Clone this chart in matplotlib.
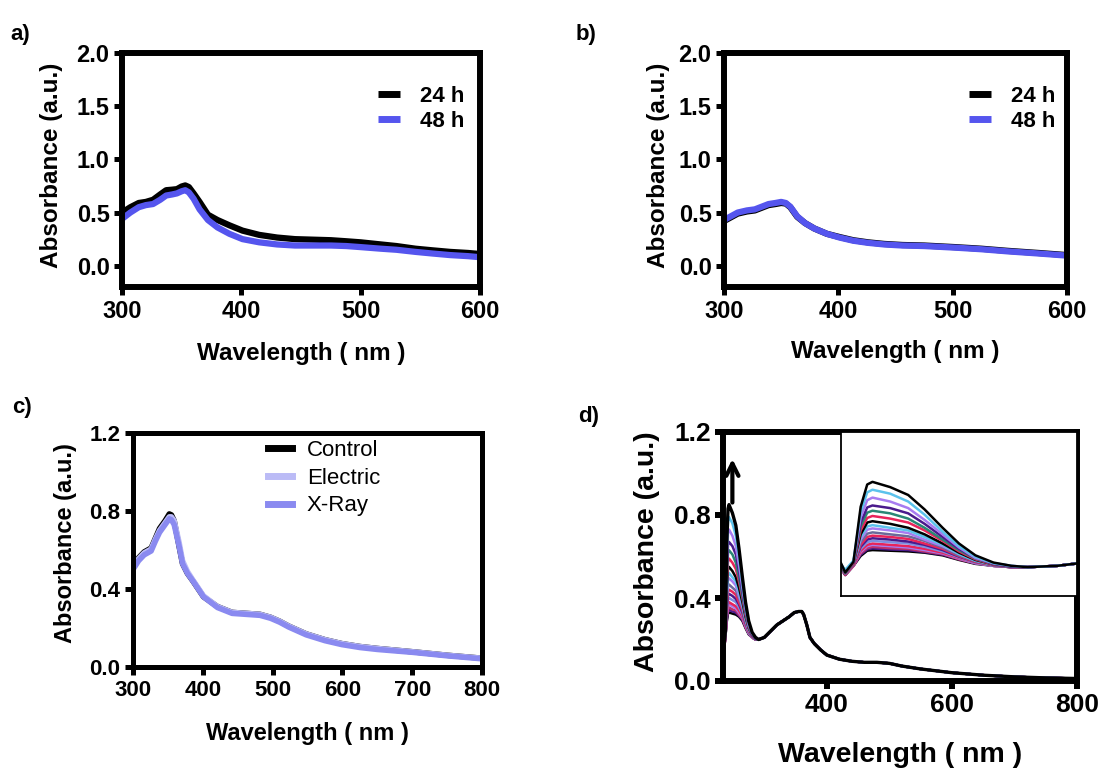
import matplotlib
matplotlib.use("Agg")
import matplotlib.pyplot as plt
import numpy as np

plt.rcParams['font.family'] = ['Liberation Sans', 'DejaVu Sans']

# ---------------- data ----------------
# panel a
A_W = [300, 307, 314, 320, 326, 332, 337, 342, 346, 350, 353, 356, 360, 365, 372, 380, 390,
       401, 415, 430, 445, 460, 475, 488, 500, 517, 530, 546, 560, 575, 590, 600]
A_24 = [0.50, 0.55, 0.59, 0.60, 0.62, 0.67, 0.71, 0.715, 0.72, 0.745, 0.755, 0.74, 0.68, 0.60,
        0.48, 0.43, 0.38, 0.33, 0.29, 0.265, 0.25, 0.245, 0.24, 0.23, 0.22, 0.20, 0.185, 0.16,
        0.145, 0.13, 0.12, 0.11]
A_48 = [0.44, 0.50, 0.55, 0.57, 0.58, 0.62, 0.66, 0.67, 0.68, 0.70, 0.71, 0.69, 0.63, 0.53,
        0.43, 0.36, 0.30, 0.25, 0.22, 0.20, 0.19, 0.19, 0.19, 0.185, 0.175, 0.16, 0.15, 0.13,
        0.115, 0.10, 0.09, 0.08]

# panel b
B_W = [300, 306, 312, 320, 327, 333, 339, 345, 350, 354, 358, 364, 371, 379, 390, 401, 413,
       426, 440, 456, 475, 502, 525, 548, 575, 600]
B_24 = [0.42, 0.455, 0.49, 0.51, 0.52, 0.545, 0.57, 0.58, 0.59, 0.585, 0.55, 0.46, 0.40, 0.35,
        0.30, 0.27, 0.24, 0.22, 0.205, 0.195, 0.19, 0.175, 0.16, 0.14, 0.12, 0.10]
B_48 = [0.43, 0.465, 0.50, 0.52, 0.53, 0.555, 0.58, 0.59, 0.60, 0.59, 0.555, 0.465, 0.40, 0.35,
        0.30, 0.265, 0.235, 0.215, 0.20, 0.19, 0.185, 0.17, 0.155, 0.135, 0.115, 0.095]
AB_LABELS = ['24 h', '48 h']

# panel c
C_W = [300, 308, 316, 326, 332, 338, 346, 352, 355, 359, 366, 371, 378, 386, 401, 421, 442,
       462, 482, 497, 510, 523, 548, 575, 599, 625, 650, 701, 751, 800]
C_CONTROL = [0.51, 0.56, 0.59, 0.61, 0.66, 0.71, 0.75, 0.785, 0.78, 0.75, 0.62, 0.53, 0.48,
             0.44, 0.36, 0.31, 0.28, 0.275, 0.27, 0.255, 0.235, 0.21, 0.17, 0.14, 0.12, 0.105,
             0.095, 0.078, 0.06, 0.045]
C_ELECTRIC = [0.51, 0.555, 0.585, 0.605, 0.655, 0.70, 0.74, 0.77, 0.77, 0.75, 0.64, 0.545, 0.49,
              0.445, 0.365, 0.31, 0.28, 0.275, 0.27, 0.255, 0.235, 0.21, 0.17, 0.14, 0.12, 0.105,
              0.095, 0.078, 0.06, 0.045]
C_XRAY = [0.50, 0.545, 0.575, 0.595, 0.645, 0.69, 0.73, 0.76, 0.755, 0.73, 0.62, 0.53, 0.48,
          0.44, 0.36, 0.305, 0.275, 0.27, 0.265, 0.25, 0.23, 0.205, 0.165, 0.135, 0.115, 0.10,
          0.09, 0.075, 0.057, 0.042]
C_LABELS = ['Control', 'Electric', 'X-Ray']

# panel d : region where the spectra differ (one row per spectrum, top to bottom)
D_PEAK_W = [234, 235.3, 237.8, 240, 242, 243.6, 249, 254.5, 259.5, 265, 270, 275, 280.5, 286]
D_PEAK = [
    [0.23, 0.16, 0.24, 0.66, 0.83, 0.85, 0.81, 0.75, 0.64, 0.50, 0.38, 0.29, 0.235, 0.21],
    [0.22, 0.18, 0.25, 0.62, 0.77, 0.79, 0.76, 0.70, 0.60, 0.47, 0.36, 0.28, 0.23, 0.21],
    [0.22, 0.17, 0.24, 0.58, 0.71, 0.73, 0.70, 0.65, 0.56, 0.45, 0.35, 0.27, 0.23, 0.21],
    [0.21, 0.17, 0.24, 0.54, 0.655, 0.67, 0.65, 0.61, 0.53, 0.43, 0.34, 0.27, 0.225, 0.205],
    [0.21, 0.16, 0.24, 0.51, 0.615, 0.63, 0.61, 0.57, 0.50, 0.41, 0.33, 0.265, 0.225, 0.205],
    [0.21, 0.16, 0.23, 0.48, 0.575, 0.59, 0.57, 0.54, 0.48, 0.40, 0.32, 0.26, 0.22, 0.205],
    [0.20, 0.16, 0.23, 0.45, 0.54, 0.55, 0.53, 0.50, 0.45, 0.38, 0.31, 0.255, 0.22, 0.205],
    [0.20, 0.16, 0.23, 0.43, 0.51, 0.52, 0.50, 0.48, 0.43, 0.37, 0.30, 0.25, 0.22, 0.205],
    [0.20, 0.16, 0.23, 0.41, 0.485, 0.495, 0.48, 0.46, 0.41, 0.36, 0.30, 0.25, 0.22, 0.205],
    [0.20, 0.15, 0.22, 0.39, 0.455, 0.465, 0.45, 0.435, 0.40, 0.35, 0.29, 0.245, 0.215, 0.20],
    [0.20, 0.15, 0.22, 0.37, 0.43, 0.44, 0.43, 0.415, 0.38, 0.34, 0.285, 0.24, 0.215, 0.20],
    [0.20, 0.15, 0.22, 0.355, 0.41, 0.42, 0.41, 0.395, 0.37, 0.33, 0.28, 0.24, 0.215, 0.20],
    [0.19, 0.15, 0.22, 0.34, 0.39, 0.40, 0.39, 0.38, 0.355, 0.32, 0.275, 0.235, 0.21, 0.20],
    [0.19, 0.15, 0.21, 0.325, 0.37, 0.38, 0.37, 0.36, 0.34, 0.31, 0.27, 0.235, 0.21, 0.20],
    [0.19, 0.15, 0.21, 0.315, 0.36, 0.37, 0.36, 0.35, 0.33, 0.305, 0.265, 0.23, 0.21, 0.20],
    [0.19, 0.14, 0.21, 0.305, 0.345, 0.355, 0.345, 0.34, 0.32, 0.30, 0.26, 0.23, 0.21, 0.20],
    [0.19, 0.14, 0.21, 0.295, 0.335, 0.343, 0.335, 0.33, 0.315, 0.295, 0.26, 0.23, 0.21, 0.20],
    [0.19, 0.14, 0.21, 0.285, 0.325, 0.33, 0.325, 0.32, 0.31, 0.29, 0.255, 0.225, 0.21, 0.20],
]
# panel d : common part of all spectra
D_TAIL_W = [291, 300, 310, 320, 330, 340, 348, 355, 360, 363, 368, 373, 380, 390, 400, 420,
            440, 460, 480, 500, 520, 550, 600, 650, 700, 750, 800]
D_TAIL = [0.20, 0.21, 0.24, 0.27, 0.29, 0.31, 0.33, 0.335, 0.335, 0.32, 0.27, 0.21, 0.18, 0.15,
          0.125, 0.105, 0.095, 0.09, 0.09, 0.085, 0.072, 0.058, 0.04, 0.028, 0.02, 0.015, 0.012]
D_COLORS = ['#000000', '#5BC2EC', '#A77BF0', '#4A1A8C', '#2A8775', '#E8245A',
            '#000000', '#5BC2EC', '#A77BF0', '#6A6A9A', '#E8245A', '#4A1A8C',
            '#7E8FE0', '#E8245A', '#A77BF0', '#C0306A', '#4A1A8C', '#000000']

BLUE = '#5555EE'

# ---------------- figure ----------------
W, H = 1105, 769
fig = plt.figure(figsize=(W / 100, H / 100), dpi=100)


def ax_at(l, t, r, b):
    return fig.add_axes([l / W, 1 - b / H, (r - l) / W, (b - t) / H])


def style(ax, spine_lw, tick_len, tick_w, fs):
    for s in ax.spines.values():
        s.set_linewidth(spine_lw)
    ax.tick_params(direction='out', length=tick_len, width=tick_w, labelsize=fs, pad=3)
    for lab in ax.get_xticklabels() + ax.get_yticklabels():
        lab.set_fontweight('bold')


def panel_ab(ax, x, y24, y48, ylab_x, xlab_y, leg_x):
    ax.plot(x, y24, color='black', lw=4.5, label=AB_LABELS[0], solid_capstyle='butt')
    ax.plot(x, y48, color=BLUE, lw=4.5, label=AB_LABELS[1], solid_capstyle='butt')
    ax.set_xlim(300, 600)
    ax.set_ylim(-0.2, 2.0)
    ax.set_xticks([300, 400, 500, 600])
    ax.set_yticks([0.0, 0.5, 1.0, 1.5, 2.0])
    ax.set_yticklabels(['0.0', '0.5', '1.0', '1.5', '2.0'])
    style(ax, 4.3, 6, 3.6, 17)
    ax.set_xlabel('Wavelength ( nm )', fontsize=17.5, fontweight='bold')
    ax.set_ylabel('Absorbance (a.u.)', fontsize=17.5, fontweight='bold')
    ax.yaxis.set_label_coords(ylab_x, 0.52)
    ax.xaxis.set_label_coords(0.5, xlab_y)
    leg = ax.legend(loc='upper left', bbox_to_anchor=(leg_x, 0.86), frameon=False,
                    prop={'weight': 'bold', 'size': 16}, handlelength=1.0,
                    handletextpad=0.9, labelspacing=0.2, borderpad=0, borderaxespad=0)
    for h in leg.get_lines():
        h.set_linewidth(5)


# panel a
axa = ax_at(122, 53, 480, 287)
panel_ab(axa, A_W, A_24, A_48, -0.165, -0.235, (378 - 122) / 358)
# panel b
axb = ax_at(724, 53, 1067, 287)
panel_ab(axb, B_W, B_24, B_48, -0.158, -0.225, (969 - 724) / 343)

# panel c
axc = ax_at(133, 433, 482, 667)
axc.plot(C_W, C_CONTROL, color='black', lw=4, label=C_LABELS[0])
axc.plot(C_W, C_ELECTRIC, color='#BBBBF6', lw=4, label=C_LABELS[1])
axc.plot(C_W, C_XRAY, color='#8A8AF0', lw=4, label=C_LABELS[2])
axc.set_xlim(300, 800)
axc.set_ylim(0, 1.2)
axc.set_xticks([300, 400, 500, 600, 700, 800])
axc.set_yticks([0.0, 0.4, 0.8, 1.2])
axc.set_yticklabels(['0.0', '0.4', '0.8', '1.2'])
style(axc, 3.6, 6, 3.6, 16)
axc.set_xlabel('Wavelength ( nm )', fontsize=17, fontweight='bold')
axc.set_ylabel('Absorbance (a.u.)', fontsize=17, fontweight='bold')
axc.yaxis.set_label_coords(-0.161, 0.53)
axc.xaxis.set_label_coords(0.5, -0.235)
legc = axc.legend(loc='upper left', bbox_to_anchor=((268 - 133) / 349, 0.97), frameon=False,
                  prop={'size': 16}, handlelength=1.1, handletextpad=0.65,
                  labelspacing=0.3, borderpad=0, borderaxespad=0)
for h in legc.get_lines():
    h.set_linewidth(5)

# panel d
axd = ax_at(723, 432, 1077, 681)
n = len(D_PEAK)
for i in range(n - 1, -1, -1):
    xs = list(D_PEAK_W) + list(D_TAIL_W)
    ys = list(D_PEAK[i]) + list(D_TAIL)
    axd.plot(xs, ys, color=D_COLORS[i], lw=2.4 if i == 0 else 1.8)
axd.set_xlim(234, 800)
axd.set_ylim(0, 1.2)
axd.set_xticks([400, 600, 800])
axd.set_yticks([0.0, 0.4, 0.8, 1.2])
axd.set_yticklabels(['0.0', '0.4', '0.8', '1.2'])
style(axd, 4.3, 6, 4.3, 19)
axd.set_xlabel('Wavelength ( nm )', fontsize=20.5, fontweight='bold')
axd.set_ylabel('Absorbance (a.u.)', fontsize=20.5, fontweight='bold')
axd.yaxis.set_label_coords(-0.178, 0.518)
axd.xaxis.set_label_coords(0.5, -0.245)
axd.annotate('', xy=(249, 1.07), xytext=(249, 0.86),
             arrowprops=dict(arrowstyle='->', lw=3, color='black', mutation_scale=22,
                             shrinkA=0, shrinkB=0))

# inset
axi = ax_at(841, 432, 1077, 596)
for i in range(n - 1, -1, -1):
    xs = list(D_PEAK_W) + list(D_TAIL_W)
    ys = list(D_PEAK[i]) + list(D_TAIL)
    axi.plot(xs, ys, color=D_COLORS[i], lw=1.8)
axi.set_xlim(234, 306)
axi.set_ylim(-0.02, 1.23)
axi.set_xticks([])
axi.set_yticks([])
for s in axi.spines.values():
    s.set_linewidth(1.3)

# panel letters
for txt, x, y in [('a)', 10, 40), ('b)', 576, 40), ('c)', 12, 413), ('d)', 578, 422)]:
    fig.text(x / W, 1 - y / H, txt, fontsize=16, fontweight='bold', ha='left', va='baseline')

fig.savefig('out.png', dpi=100)
